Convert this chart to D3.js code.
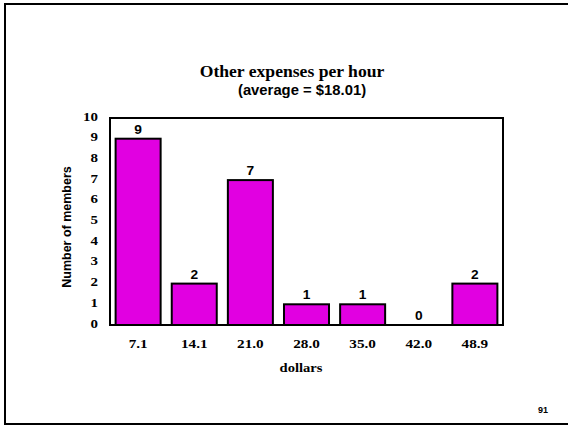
<!DOCTYPE html>
<html><head><meta charset="utf-8">
<script src="https://cdn.jsdelivr.net/npm/d3@7"></script>
<style>body{margin:0;background:#fff}svg{display:block}</style>
</head><body>
<script>
const categories = ["7.1","14.1","21.0","28.0","35.0","42.0","48.9"];
const members = [9,2,7,1,1,0,2];
const yTicks = [0,1,2,3,4,5,6,7,8,9,10];
const titleText = "Other expenses per hour";
const subtitleText = "(average = $18.01)";
const xLabel = "dollars";
const yLabel = "Number of members";
const pageNumber = "91";

(function(){
const W = 568, H = 426;
const svg = d3.select("body").append("svg").attr("width", W).attr("height", H);

// page frame (left, top, bottom)
svg.append("path").attr("d", `M570,4 H5 V424 H570`).attr("fill","none").attr("stroke","#000").attr("stroke-width",2);

const pl = 110, pr = 503, pt = 118, pb = 325;
const x = d3.scaleBand().domain(categories).range([pl, pr]).paddingInner(0.198).paddingOuter(0.1);
const y = d3.scaleLinear().domain([0,10]).range([pb, pt]);

const serif = "'Liberation Serif','Times New Roman',serif";
const sans = "'Liberation Sans',Arial,sans-serif";

// bars
svg.append("g").selectAll("rect").data(members).join("rect")
  .attr("x", (d,i)=>x(categories[i]))
  .attr("y", d=>y(d))
  .attr("width", x.bandwidth())
  .attr("height", d=>y(0)-y(d))
  .attr("fill","#e100e1").attr("stroke","#000").attr("stroke-width",2);

// plot box
svg.append("rect").attr("x",pl).attr("y",pt).attr("width",pr-pl).attr("height",pb-pt)
  .attr("fill","none").attr("stroke","#000").attr("stroke-width",2);

// value labels
svg.append("g").selectAll("text").data(members).join("text")
  .attr("transform",(d,i)=>`translate(${x(categories[i])+x.bandwidth()/2},${y(d)-5}) scale(1.1,1)`)
  .attr("text-anchor","middle").attr("font-family",sans).attr("font-weight","bold").attr("font-size",12.5)
  .text(d=>d);

// y tick labels
svg.append("g").selectAll("text").data(yTicks).join("text")
  .attr("transform",d=>`translate(98,${y(d)+2.5}) scale(1.15,1)`)
  .attr("text-anchor","end").attr("font-family",serif).attr("font-weight","bold").attr("font-size",13)
  .text(d=>d);

// x tick labels
svg.append("g").selectAll("text").data(categories).join("text")
  .attr("transform",d=>`translate(${x(d)+x.bandwidth()/2},348) scale(1.17,1)`)
  .attr("text-anchor","middle").attr("font-family",serif).attr("font-weight","bold").attr("font-size",13)
  .text(d=>d);

// axis titles
svg.append("text").attr("transform","translate(301,372) scale(1.12,1)").attr("text-anchor","middle")
  .attr("font-family",serif).attr("font-weight","bold").attr("font-size",13).text(xLabel);
svg.append("text").attr("transform","translate(71,227) rotate(-90)").attr("text-anchor","middle")
  .attr("font-family",sans).attr("font-weight","bold").attr("font-size",12.5).text(yLabel);

// titles
svg.append("text").attr("transform","translate(292,77)").attr("text-anchor","middle")
  .attr("font-family",serif).attr("font-weight","bold").attr("font-size",17.6).text(titleText);
svg.append("text").attr("transform","translate(302,95) scale(1.06,1)").attr("text-anchor","middle")
  .attr("font-family",sans).attr("font-weight","bold").attr("font-size",14).text(subtitleText);

// page number
svg.append("text").attr("x",543).attr("y",413).attr("text-anchor","middle")
  .attr("font-family",sans).attr("font-weight","bold").attr("font-size",9).text(pageNumber);
})();
</script>
</body></html>
